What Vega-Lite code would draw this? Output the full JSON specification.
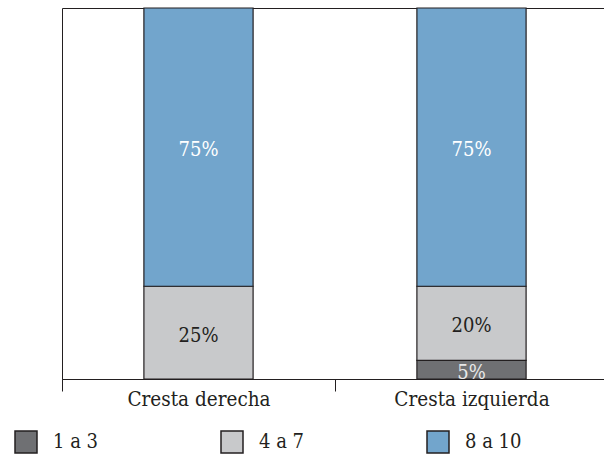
{
  "$schema": "https://vega.github.io/schema/vega-lite/v6.json",
  "width": 546,
  "height": 371,
  "autosize": {"type": "none"},
  "padding": {"left": 62, "top": 8, "right": -4, "bottom": 77},
  "background": "#ffffff",
  "config": {
    "view": {"stroke": "#231f20", "strokeWidth": 1},
    "font": "DejaVu Serif Condensed"
  },
  "data": {
    "values": [
      {"cresta": "Cresta derecha", "cat": "1 a 3", "order": 1, "pct": 0},
      {"cresta": "Cresta derecha", "cat": "4 a 7", "order": 2, "pct": 0.25},
      {"cresta": "Cresta derecha", "cat": "8 a 10", "order": 3, "pct": 0.75},
      {"cresta": "Cresta izquierda", "cat": "1 a 3", "order": 1, "pct": 0.05},
      {"cresta": "Cresta izquierda", "cat": "4 a 7", "order": 2, "pct": 0.20},
      {"cresta": "Cresta izquierda", "cat": "8 a 10", "order": 3, "pct": 0.75}
    ]
  },
  "encoding": {
    "x": {
      "field": "cresta",
      "type": "nominal",
      "sort": ["Cresta derecha", "Cresta izquierda"],
      "scale": {"paddingInner": 0, "paddingOuter": 0},
      "axis": {
        "title": null,
        "labelAngle": 0,
        "tickBand": "extent",
        "domainColor": "#231f20",
        "tickColor": "#231f20",
        "tickSize": 12,
        "labelPadding": -2,
        "labelLimit": 400,
        "labelFont": "DejaVu Serif Condensed",
        "labelFontSize": 20.5,
        "labelColor": "#231f20",
        "grid": false
      }
    }
  },
  "layer": [
    {
      "transform": [{"filter": "datum.pct > 0"}],
      "mark": {"type": "bar", "width": {"band": 0.4}, "stroke": "#231f20", "strokeWidth": 1.2},
      "encoding": {
        "y": {"field": "pct", "type": "quantitative", "stack": "zero", "scale": {"domain": [0, 1], "nice": false, "zero": true}, "axis": null},
        "order": {"field": "order", "type": "quantitative"},
        "color": {
          "field": "cat",
          "type": "nominal",
          "scale": {"domain": ["1 a 3", "4 a 7", "8 a 10"], "range": ["#6f7073", "#c8c9cb", "#72a5cc"]},
          "legend": {
            "title": null,
            "orient": "none",
            "legendX": -48,
            "legendY": 422,
            "direction": "horizontal",
            "columns": 3,
            "columnPadding": 119,
            "padding": 0,
            "symbolType": "square",
            "symbolSize": 484,
            "symbolStrokeColor": "#231f20",
            "symbolStrokeWidth": 1.5,
            "labelFont": "DejaVu Serif Condensed",
            "labelFontSize": 20,
            "labelColor": "#231f20",
            "labelOffset": 15
          }
        }
      }
    },
    {
      "transform": [
        {"filter": "datum.pct > 0"},
        {"stack": "pct", "groupby": ["cresta"], "sort": [{"field": "order"}], "as": ["y0", "y1"]},
        {"fold": ["y0", "y1"], "as": ["k", "v"]},
        {"aggregate": [{"op": "mean", "field": "v", "as": "mid"}], "groupby": ["cresta", "cat", "pct"]}
      ],
      "mark": {"type": "text", "font": "DejaVu Serif Condensed", "fontSize": 20, "baseline": "middle", "dy": 3},
      "encoding": {
        "y": {"field": "mid", "type": "quantitative", "scale": {"domain": [0, 1], "nice": false}},
        "text": {"field": "pct", "type": "quantitative", "format": ".0%"},
        "color": {
          "field": "cat",
          "type": "nominal",
          "scale": {"domain": ["1 a 3", "4 a 7", "8 a 10"], "range": ["#e8e8e8", "#231f20", "#ffffff"]},
          "legend": null
        }
      }
    }
  ],
  "resolve": {"scale": {"color": "independent"}}
}
